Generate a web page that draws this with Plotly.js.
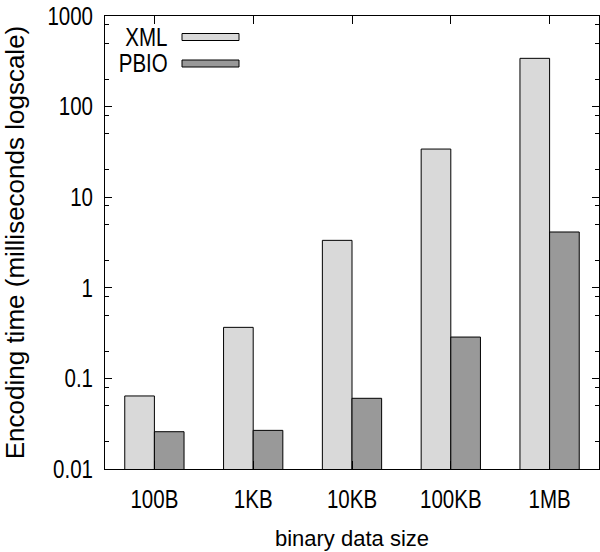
<!DOCTYPE html>
<html>
<head>
<meta charset="utf-8">
<script src="https://cdn.plot.ly/plotly-3.0.1.min.js"></script>
<style>html,body{margin:0;padding:0;background:#fff;}#chart{width:600px;height:552px;}</style>
</head>
<body>
<div id="chart"></div>
<script>
const categories = ['100B', '1KB', '10KB', '100KB', '1MB'];
const xmlValues = [0.064, 0.366, 3.34, 34, 341];
const pbioValues = [0.0258, 0.0267, 0.0603, 0.286, 4.13];
const seriesNames = ['XML', 'PBIO'];
const yTickVals = [0.01, 0.1, 1, 10, 100, 1000];
const yTickText = ['0.01', '0.1', '1', '10', '100', '1000'];
const yMinorTickVals = [0.02, 0.05, 0.08, 0.2, 0.5, 0.8, 2, 5, 8, 20, 50, 80, 200, 500, 800];

const FONT = '"Liberation Sans", Arial, sans-serif';
const colors = ['#d9d9d9', '#999999'];
const NARROW = 0.82;

const traces = [xmlValues, pbioValues].map((vals, i) => ({
  type: 'bar',
  name: seriesNames[i],
  x: categories,
  y: vals,
  marker: {color: colors[i], line: {color: '#000', width: 1}},
  showlegend: false,
  hoverinfo: 'skip'
}));

const shapes = [];
const annotations = [];
const legendY = [37, 63.5];
seriesNames.forEach((n, i) => {
  shapes.push({type: 'rect', xref: 'paper', yref: 'paper',
    x0: (182 - 105) / 494, x1: (239 - 105) / 494,
    y0: (469 - (legendY[i] + 3.5)) / 453, y1: (469 - (legendY[i] - 3.5)) / 453,
    fillcolor: colors[i], line: {color: '#000', width: 1}});
  annotations.push({xref: 'paper', yref: 'paper', x: (170 - 105) / 494, y: (469 - legendY[i]) / 453,
    xanchor: 'right', yanchor: 'middle', align: 'right', text: n, showarrow: false,
    font: {family: FONT, size: 25, color: '#000'}});
});

const layout = {
  width: 600, height: 552,
  margin: {l: 105, r: 1, t: 16, b: 83},
  paper_bgcolor: '#fff', plot_bgcolor: '#fff',
  barmode: 'group', bargap: 0.4, bargroupgap: 0,
  font: {family: FONT, size: 25, color: '#000'},
  xaxis: {
    type: 'category', range: [-0.5, 4.5],
    showline: true, linecolor: '#000', linewidth: 1, mirror: 'allticks',
    ticks: 'inside', ticklen: 8, tickcolor: '#000',
    showgrid: false, zeroline: false,
    tickfont: {family: FONT, size: 25, color: '#000'},
    ticklabelstandoff: 8,
    title: {text: 'binary data size', font: {family: FONT, size: 22, color: '#000'}, standoff: 18}
  },
  yaxis: {
    type: 'log', range: [-2, 3],
    tickmode: 'array', tickvals: yTickVals, ticktext: yTickText,
    showline: true, linecolor: '#000', linewidth: 1, mirror: 'allticks',
    ticks: 'inside', ticklen: 7, tickcolor: '#000',
    minor: {tickmode: 'array', tickvals: yMinorTickVals, ticks: 'inside', ticklen: 4, tickcolor: '#000', showgrid: false},
    showgrid: false, zeroline: false,
    tickfont: {family: FONT, size: 25, color: '#000'},
    ticklabelstandoff: 6,
    title: {text: 'Encoding time (milliseconds logscale)', font: {family: FONT, size: 26, color: '#000'}, standoff: 10}
  },
  shapes: shapes,
  annotations: annotations
};

Plotly.newPlot('chart', traces, layout, {displayModeBar: false, staticPlot: true}).then(gd => {
  gd.querySelectorAll('.xtick text, .ytick text, .annotation-text').forEach(t => {
    const w = t.getComputedTextLength();
    t.setAttribute('textLength', (w * NARROW).toFixed(2));
    t.setAttribute('lengthAdjust', 'spacingAndGlyphs');
  });
});
</script>
</body>
</html>
